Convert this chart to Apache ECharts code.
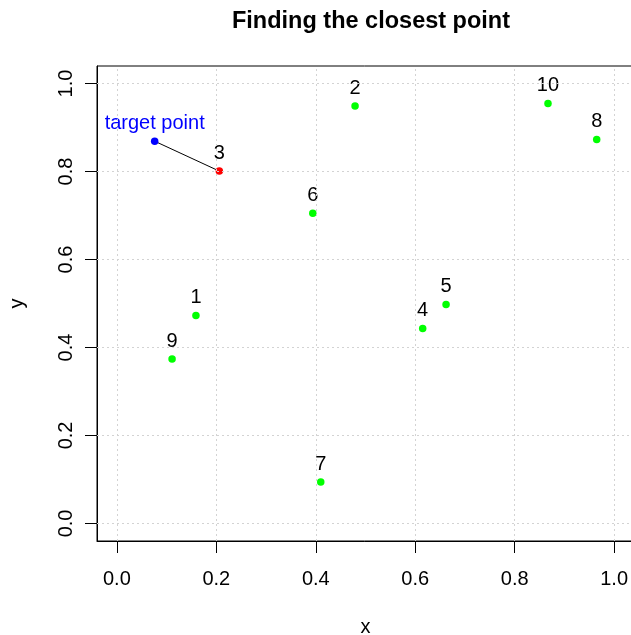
<!DOCTYPE html>
<html>
<head>
<meta charset="utf-8">
<script src="https://cdn.jsdelivr.net/npm/echarts@6/dist/echarts.min.js"></script>
<style>html,body{margin:0;padding:0;background:#fff}#c{width:631px;height:635px}</style>
</head>
<body>
<div id="c"></div>
<script>
const pointIds = ['1','2','3','4','5','6','7','8','9','10'];
const xValues = [0.159, 0.479, 0.206, 0.615, 0.662, 0.394, 0.410, 0.965, 0.111, 0.867];
const yValues = [0.473, 0.949, 0.801, 0.443, 0.498, 0.705, 0.094, 0.873, 0.374, 0.955];
const targetPoint = [0.076, 0.869];
const closestId = '3';
const tickValues = [0, 0.2, 0.4, 0.6, 0.8, 1.0];

const FONT = 'Liberation Sans, Arial, Helvetica, sans-serif';
const chart = echarts.init(document.getElementById('c'), null, {renderer: 'canvas'});

const pts = pointIds.map((id, i) => ({
  value: [xValues[i], yValues[i]],
  name: id,
  itemStyle: {color: id === closestId ? '#ff0000' : '#00ff00', opacity: 1}
}));
const ci = pointIds.indexOf(closestId);

const gridMarks = [];
tickValues.forEach(v => { gridMarks.push({xAxis: v}); gridMarks.push({yAxis: v}); });

chart.setOption({
  animation: false,
  title: {
    text: 'Finding the closest point',
    left: 366, top: 5, textAlign: 'center',
    textStyle: {fontFamily: FONT, fontWeight: 'bold', fontSize: 23.5, color: '#000'}
  },
  grid: {left: 97, top: 66, width: 537, height: 475, outerBoundsMode: 'none', containLabel: false,
    show: true, borderColor: '#000', borderWidth: 1, backgroundColor: 'transparent'},
  xAxis: {
    type: 'value', min: -0.04, max: 1.04,
    name: 'x', nameLocation: 'middle', nameGap: 76,
    nameTextStyle: {fontFamily: FONT, fontSize: 20, color: '#000'},
    axisLine: {show: true, onZero: false, lineStyle: {color: '#000', width: 1}},
    axisTick: {show: true, length: 12, customValues: tickValues, lineStyle: {color: '#000'}},
    axisLabel: {customValues: tickValues, margin: 28, fontFamily: FONT, fontSize: 20, color: '#000',
      formatter: v => v.toFixed(1)},
    splitLine: {show: false}
  },
  yAxis: {
    type: 'value', min: -0.04, max: 1.04,
    name: 'y', nameLocation: 'middle', nameGap: 70, nameRotate: 90,
    nameTextStyle: {fontFamily: FONT, fontSize: 20, color: '#000'},
    axisLine: {show: true, onZero: false, lineStyle: {color: '#000', width: 1}},
    axisTick: {show: true, length: 12, customValues: tickValues, lineStyle: {color: '#000'}},
    axisLabel: {customValues: tickValues, margin: 21, rotate: 90, fontFamily: FONT, fontSize: 20, color: '#000',
      formatter: v => v.toFixed(1)},
    splitLine: {show: false}
  },
  series: [
    {
      type: 'scatter', z: 1, silent: true, symbolSize: 0,
      data: [[targetPoint[0], targetPoint[1]]],
      markLine: {
        silent: true, symbol: 'none', label: {show: false},
        lineStyle: {color: '#d3d3d3', type: [2, 3], width: 1},
        data: gridMarks, animation: false
      }
    },
    {
      type: 'line', z: 2, silent: true, symbol: 'none',
      lineStyle: {color: '#000', width: 1},
      data: [[targetPoint[0], targetPoint[1]], [xValues[ci], yValues[ci]]]
    },
    {
      type: 'scatter', z: 3, symbolSize: 7.5,
      data: pts,
      label: {show: true, position: 'top', distance: 4, formatter: p => p.name,
        fontFamily: FONT, fontSize: 20, color: '#000'}
    },
    {
      type: 'scatter', z: 3, symbolSize: 7.5,
      data: [{value: [targetPoint[0], targetPoint[1]], name: 'target point'}],
      itemStyle: {color: '#0000ff', opacity: 1},
      label: {show: true, position: 'top', distance: 4, formatter: 'target point',
        fontFamily: FONT, fontSize: 20, color: '#0000ff'}
    }
  ]
});
</script>
</body>
</html>
